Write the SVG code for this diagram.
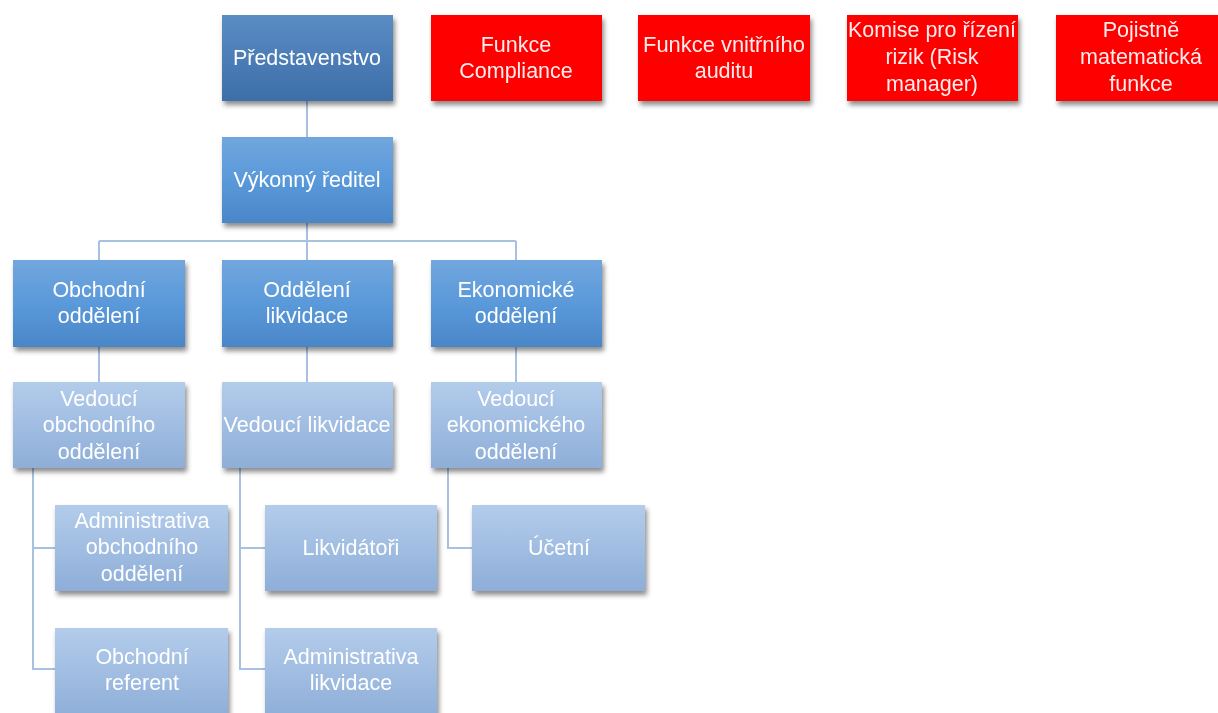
<svg xmlns="http://www.w3.org/2000/svg" width="1218" height="713" viewBox="0 0 1218 713">
<defs>
<linearGradient id="gDark" x1="0" y1="0" x2="0" y2="1"><stop offset="0" stop-color="#5b8cc4"/><stop offset="1" stop-color="#3d6ea8"/></linearGradient>
<linearGradient id="gMid" x1="0" y1="0" x2="0" y2="1"><stop offset="0" stop-color="#72a6de"/><stop offset="0.5" stop-color="#5a99da"/><stop offset="1" stop-color="#4a86c8"/></linearGradient>
<linearGradient id="gLight" x1="0" y1="0" x2="0" y2="1"><stop offset="0" stop-color="#b3cceb"/><stop offset="1" stop-color="#8eaed8"/></linearGradient>
<filter id="sh" x="-10%" y="-10%" width="125%" height="130%"><feDropShadow dx="2" dy="4" stdDeviation="2.5" flood-color="#000" flood-opacity="0.45"/></filter>
<style>
text{font-family:"Liberation Sans","DejaVu Sans",sans-serif;font-size:21.5px;fill:#fff;text-anchor:middle;dominant-baseline:central}
.red text{fill:#ffecec}
.c{fill:none;stroke:#a8c1e1;stroke-width:2}
</style>
</defs>
<g id="connectors">
<path class="c" d="M307 101V137M307 223V241M99 241H516M99 241V260M307 241V260M516 241V260M99 347V382M307 347V382M516 347V382M33 468V669H55M33 548H55M240 468V669H265M240 548H265M448 468V548H472"/>
</g>
<g id="n1" filter="url(#sh)"><rect x="222" y="15" width="171" height="86" fill="url(#gDark)"/><text x="307" y="58">Představenstvo</text></g>
<g id="n2" filter="url(#sh)"><rect x="222" y="137" width="171" height="86" fill="url(#gMid)"/><text x="307" y="180">Výkonný ředitel</text></g>
<g id="r1" class="red" filter="url(#sh)"><rect x="431" y="15" width="171" height="86" fill="#ff0000"/><text x="516" y="45">Funkce</text><text x="516" y="71">Compliance</text></g>
<g id="r2" class="red" filter="url(#sh)"><rect x="638" y="15" width="172" height="86" fill="#ff0000"/><text x="724" y="45" textLength="162" lengthAdjust="spacingAndGlyphs">Funkce vnitřního</text><text x="724" y="71">auditu</text></g>
<g id="r3" class="red" filter="url(#sh)"><rect x="847" y="15" width="171" height="86" fill="#ff0000"/><text x="932" y="30" textLength="168" lengthAdjust="spacingAndGlyphs">Komise pro řízení</text><text x="932" y="57">rizik (Risk</text><text x="932" y="84">manager)</text></g>
<g id="r4" class="red" filter="url(#sh)"><rect x="1056" y="15" width="172" height="86" fill="#ff0000"/><text x="1141" y="30">Pojistně</text><text x="1141" y="57">matematická</text><text x="1141" y="84">funkce</text></g>
<g id="d1" filter="url(#sh)"><rect x="13" y="260" width="172" height="87" fill="url(#gMid)"/><text x="99" y="290">Obchodní</text><text x="99" y="316">oddělení</text></g>
<g id="d2" filter="url(#sh)"><rect x="222" y="260" width="171" height="87" fill="url(#gMid)"/><text x="307" y="290">Oddělení</text><text x="307" y="316">likvidace</text></g>
<g id="d3" filter="url(#sh)"><rect x="431" y="260" width="171" height="87" fill="url(#gMid)"/><text x="516" y="290">Ekonomické</text><text x="516" y="316">oddělení</text></g>
<g id="v1" filter="url(#sh)"><rect x="13" y="382" width="172" height="86" fill="url(#gLight)"/><text x="99" y="399">Vedoucí</text><text x="99" y="425">obchodního</text><text x="99" y="452">oddělení</text></g>
<g id="v2" filter="url(#sh)"><rect x="222" y="382" width="171" height="86" fill="url(#gLight)"/><text x="307" y="425" textLength="167" lengthAdjust="spacingAndGlyphs">Vedoucí likvidace</text></g>
<g id="v3" filter="url(#sh)"><rect x="431" y="382" width="171" height="86" fill="url(#gLight)"/><text x="516" y="399">Vedoucí</text><text x="516" y="425">ekonomického</text><text x="516" y="452">oddělení</text></g>
<g id="a1" filter="url(#sh)"><rect x="55" y="505" width="173" height="86" fill="url(#gLight)"/><text x="142" y="521">Administrativa</text><text x="142" y="547">obchodního</text><text x="142" y="574">oddělení</text></g>
<g id="a2" filter="url(#sh)"><rect x="265" y="505" width="172" height="86" fill="url(#gLight)"/><text x="351" y="548">Likvidátoři</text></g>
<g id="a3" filter="url(#sh)"><rect x="472" y="505" width="173" height="86" fill="url(#gLight)"/><text x="559" y="548">Účetní</text></g>
<g id="b1" filter="url(#sh)"><rect x="55" y="628" width="173" height="90" fill="url(#gLight)"/><text x="142" y="657">Obchodní</text><text x="142" y="683">referent</text></g>
<g id="b2" filter="url(#sh)"><rect x="265" y="628" width="172" height="90" fill="url(#gLight)"/><text x="351" y="657">Administrativa</text><text x="351" y="683">likvidace</text></g>
</svg>
